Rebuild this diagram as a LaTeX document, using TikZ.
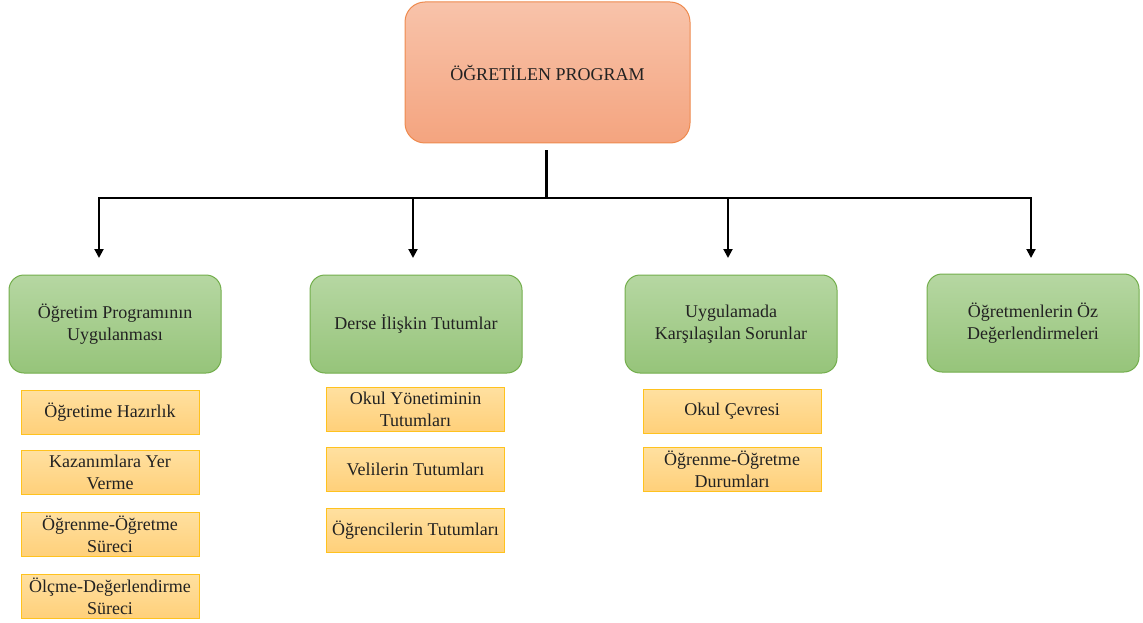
\documentclass[tikz,border=0pt]{standalone}
\usepackage{fontspec}
\setmainfont{Liberation Serif}
\usetikzlibrary{arrows.meta}

\definecolor{rootTop}{HTML}{F8C3AA}
\definecolor{rootBot}{HTML}{F4A47F}
\definecolor{rootEdge}{HTML}{EE8A4E}
\definecolor{grnTop}{HTML}{B6D7A2}
\definecolor{grnBot}{HTML}{96C47A}
\definecolor{grnEdge}{HTML}{73AE4C}
\definecolor{ylwTop}{HTML}{FFE0A0}
\definecolor{ylwBot}{HTML}{FFD07A}
\definecolor{ylwEdge}{HTML}{FFC21E}
\definecolor{txt}{HTML}{222222}

\tikzset{
  base/.style={font=\fontsize{18}{22}\selectfont, text=txt, align=center, inner sep=2pt},
  rootbox/.style={base, draw=rootEdge, line width=1pt, top color=rootTop, bottom color=rootBot,
    rounded corners=20pt, minimum width=285pt, minimum height=141pt},
  topicbox/.style={base, draw=grnEdge, line width=1pt, top color=grnTop, bottom color=grnBot,
    rounded corners=15pt, minimum width=212pt, minimum height=98pt},
  itembox/.style={base, draw=ylwEdge, line width=1pt, top color=ylwTop, bottom color=ylwBot,
    minimum width=178pt, minimum height=44pt},
  link/.style={line width=2pt, black},
  drop/.style={line width=2pt, black, -{Triangle[length=9pt,width=9pt]}}
}

\begin{document}
\begin{tikzpicture}[x=1pt,y=-1pt]
  \useasboundingbox (0,0) rectangle (1143,623);

  % root
  \node[rootbox] (root) at (547.5,72.5) {ÖĞRETİLEN PROGRAM};

  % bus line and drop points
  \coordinate (stem) at (546,199);
  \coordinate (b1) at (99,198);
  \coordinate (b2) at (413,198);
  \coordinate (b3) at (728,198);
  \coordinate (b4) at (1031,198);
  \coordinate (t1) at (99,258);
  \coordinate (t2) at (413,258);
  \coordinate (t3) at (728,258);
  \coordinate (t4) at (1031,258);

  % topics
  \node[topicbox] (g1) at (115,324) {Öğretim Programının\\Uygulanması};
  \node[topicbox] (g2) at (416,324) {Derse İlişkin Tutumlar};
  \node[topicbox] (g3) at (731,324) {Uygulamada\\Karşılaşılan Sorunlar};
  \node[topicbox] (g4) at (1033,323) {Öğretmenlerin Öz\\Değerlendirmeleri};

  % items under the first topic
  \node[itembox] (a1) at (110,412) {Öğretime Hazırlık};
  \node[itembox] (a2) at (110,472.5) {Kazanımlara Yer\\Verme};
  \node[itembox] (a3) at (110,534) {Öğrenme-Öğretme\\Süreci};
  \node[itembox] (a4) at (110,596) {Ölçme-Değerlendirme\\Süreci};

  % items under the second topic
  \node[itembox] (c1) at (415.5,409) {Okul Yönetiminin\\Tutumları};
  \node[itembox] (c2) at (415.5,469) {Velilerin Tutumları};
  \node[itembox] (c3) at (415.5,530) {Öğrencilerin Tutumları};

  % items under the third topic
  \node[itembox] (d1) at (732,411) {Okul Çevresi};
  \node[itembox] (d2) at (732,469) {Öğrenme-Öğretme\\Durumları};

  % connectors
  \draw[line width=3pt, shorten <=7pt] (root.south -| stem) -- (stem);
  \draw[link, line cap=rect] (b1) -- (b4);
  \draw[drop] (b1) -- (t1);
  \draw[drop] (b2) -- (t2);
  \draw[drop] (b3) -- (t3);
  \draw[drop] (b4) -- (t4);
\end{tikzpicture}
\end{document}
